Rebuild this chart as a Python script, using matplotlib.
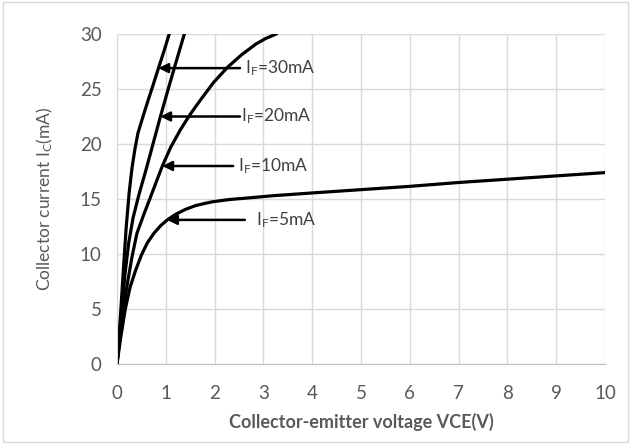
import matplotlib.pyplot as plt
from matplotlib.patches import Rectangle

plt.rcParams['font.family'] = ['Lato', 'DejaVu Sans']

# curve data (VCE in V, IC in mA)
v_5 = [0, 0.08, 0.17, 0.27, 0.38, 0.5, 0.62, 0.76, 0.9, 1.03, 1.2, 1.4, 1.61, 1.8,
       1.96, 2.3, 2.7, 3.2, 4, 5, 6, 7, 8, 9, 10]
i_5 = [0, 2.5, 5, 7.0, 8.5, 9.9, 11.0, 11.9, 12.6, 13.1, 13.6, 14.05, 14.4, 14.6,
       14.75, 14.95, 15.1, 15.3, 15.55, 15.85, 16.15, 16.5, 16.8, 17.1, 17.4]

v_10 = [0, 0.06, 0.13, 0.22, 0.31, 0.41, 0.55, 0.68, 0.8, 0.93, 1.1, 1.3, 1.5,
        1.71, 1.98, 2.27, 2.55, 2.85, 3.05, 3.26]
i_10 = [0, 2.5, 5, 7.5, 9.8, 11.9, 13.6, 15.1, 16.5, 18.0, 19.7, 21.3, 22.7,
        24.0, 25.6, 27.0, 28.1, 29.1, 29.6, 30.0]

v_20 = [0, 0.05, 0.1, 0.16, 0.24, 0.33, 0.45, 0.61, 0.75, 0.89, 1.05, 1.2, 1.38]
i_20 = [0, 2.5, 5, 8, 11, 13.3, 15.4, 17.9, 20.2, 22.5, 25.0, 27.3, 30]

v_30 = [0, 0.04, 0.08, 0.13, 0.19, 0.25, 0.31, 0.37, 0.43, 0.54, 0.64, 0.75, 0.85,
        0.96, 1.07]
i_30 = [0, 2.5, 5, 8.5, 12.5, 15.6, 17.9, 19.6, 21.0, 22.6, 24.0, 25.5, 26.9,
        28.4, 30]

# labels: text, arrow tip, arrow tail, text x
labels = ["30mA", "20mA", "10mA", "5mA"]
tips = [(0.85, 26.9), (0.89, 22.5), (0.93, 18.0), (1.03, 13.1)]
tails = [(2.52, 26.9), (2.52, 22.5), (2.38, 18.0), (2.62, 13.1)]
text_x = [2.62, 2.55, 2.47, 2.85]

fig = plt.figure(figsize=(6.31, 4.44), dpi=100)
fig.patches.append(Rectangle((0.004, 0.005), 0.992, 0.99, transform=fig.transFigure,
                             fill=False, edgecolor='#d9d9d9', linewidth=1))
ax = fig.add_axes([0.1854, 0.1802, 0.7734, 0.7432])

for v, i in [(v_5, i_5), (v_10, i_10), (v_20, i_20), (v_30, i_30)]:
    ax.plot(v, i, color='black', linewidth=2.3, solid_joinstyle='round')

for lab, tip, tail, tx in zip(labels, tips, tails, text_x):
    ax.annotate('', xy=tip, xytext=tail,
                arrowprops=dict(arrowstyle='-|>', color='black', lw=1.8,
                                mutation_scale=14, shrinkA=0, shrinkB=0))
    ax.text(tx, tip[1], r'$\mathregular{I_F}$=' + lab, fontsize=12.5,
            color='#404040', va='center', ha='left')

ax.set_xlim(0, 10)
ax.set_ylim(0, 30)
ax.set_xticks(range(0, 11))
ax.set_yticks(range(0, 31, 5))
ax.grid(True, color='#d9d9d9', linewidth=1)
ax.set_axisbelow(True)
for s in ['top', 'right']:
    ax.spines[s].set_visible(False)
ax.spines['left'].set_color('#d9d9d9')
ax.spines['bottom'].set_color('#bfbfbf')
ax.tick_params(length=0, labelsize=13.5, labelcolor='#595959')
ax.tick_params(axis='x', pad=15)
ax.tick_params(axis='y', pad=11)

ax.set_xlabel('Collector-emitter voltage VCE(V)', fontsize=13, fontweight='bold',
              color='#595959', va='center')
ax.set_ylabel(r'Collector current $\mathregular{I_C}$(mA)', fontsize=12.5,
              color='#595959', va='center')
ax.xaxis.set_label_coords(0.5, -0.177)
ax.yaxis.set_label_coords(-0.1475, 0.5)

fig.savefig('out.png', dpi=100)
